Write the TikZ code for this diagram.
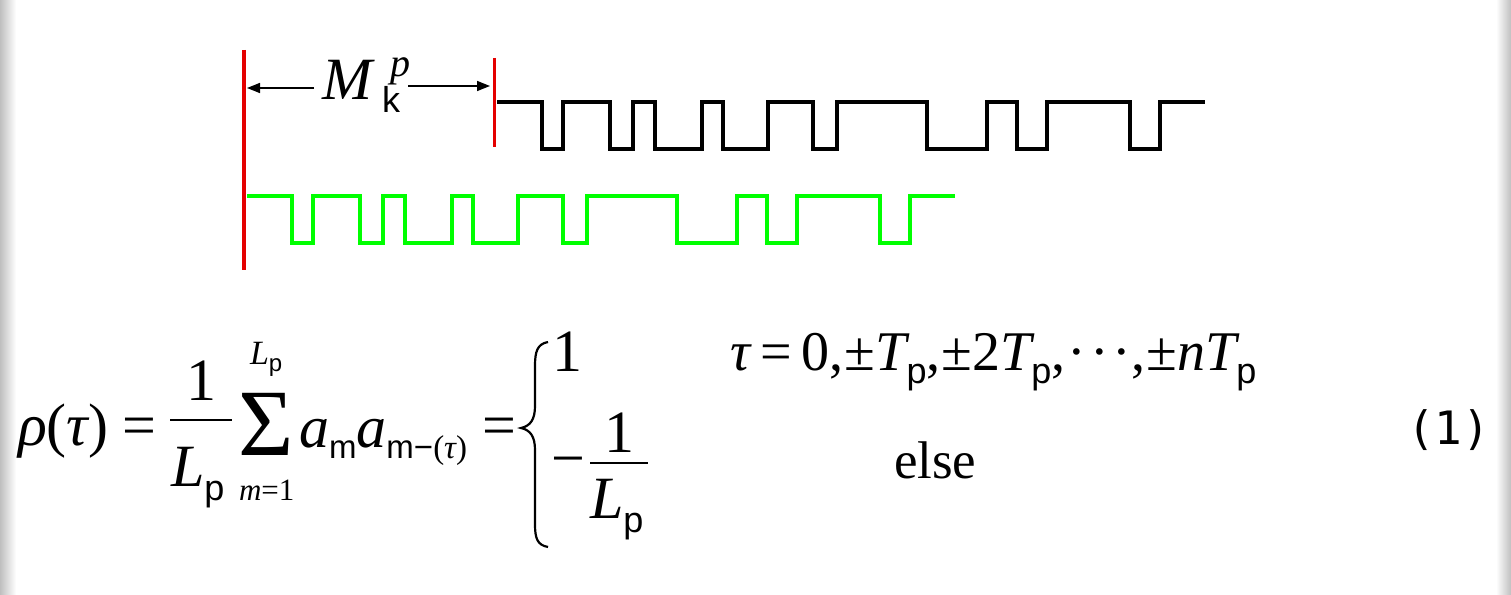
\documentclass[tikz,border=0pt]{standalone}
\usepackage{fontspec}
\setmainfont{Liberation Serif}
\newfontfamily\sansf{Liberation Sans}
\newfontfamily\monof{DejaVu Sans Mono}
\usetikzlibrary{arrows.meta}
\newcommand{\sz}[1]{\fontsize{#1}{#1}\selectfont}
\newcommand{\subp}[2]{\raisebox{-#2pt}{\sansf\sz{36}#1}}
\definecolor{redl}{RGB}{228,0,0}
\definecolor{greenl}{RGB}{0,255,0}
\newcommand{\wavepath}{(497,0) -- (542,0) -- (542,47) -- (563,47) -- (563,0) -- (610,0) -- (610,47) -- (633,47) -- (633,0) -- (655,0) -- (655,47) -- (702,47) -- (702,0) -- (723,0) -- (723,47) -- (768,47) -- (768,0) -- (813,0) -- (813,47) -- (837,47) -- (837,0) -- (927,0) -- (927,47) -- (987,47) -- (987,0) -- (1017,0) -- (1017,47) -- (1047,47) -- (1047,0) -- (1130,0) -- (1130,47) -- (1160,47) -- (1160,0) -- (1205,0)}
\begin{document}
\begin{tikzpicture}[x=1pt,y=-1pt,
  txt/.style={inner sep=0pt, outer sep=0pt, anchor=base west},
  ctr/.style={inner sep=0pt, outer sep=0pt, anchor=base},
  wave/.style={line width=4.3pt, line join=miter},
  fbar/.style={line width=2.4pt},
  arr/.style={line width=1.5pt, -{Triangle[length=13pt,width=10pt]}}]
\useasboundingbox (0,0) rectangle (1511,594);
\fill[white] (0,0) rectangle (1511,594);
\shade[left color=black!25, right color=white] (0,0) rectangle (16,594);
\shade[left color=white, right color=black!25] (1496,0) rectangle (1511,594);
% waveforms
\draw[wave, black] [shift={(0,102)}] \wavepath;
\draw[wave, greenl] [shift={(-250,196)}] \wavepath;
% red markers
\draw[redl, line width=4.5pt] (244,50) -- (244,270);
\draw[redl, line width=3pt] (494,58) -- (494,147);
% label M_k^p
\node[txt, font=\sz{60}] (M) at (322,99) {\itshape M};
\node[txt, font=\sz{40}] (Mp) at (390,76) {\itshape p};
\node[txt, font=\sz{36}] (Mk) at (382,112) {\sansf k};
\coordinate (la) at (314,88);
\coordinate (lt) at (247,88);
\coordinate (ra) at (408,86);
\coordinate (rt) at (490,86);
\draw[arr] (la) -- (lt);
\draw[arr] (ra) -- (rt);
% formula
\node[txt, font=\sz{60}] (rho) at (18,445) {{\itshape ρ}({\itshape τ})};
\node[txt, font=\sz{60}] (eq1) at (122,445) {=};
\node[ctr, font=\sz{60}] (n1) at (201,400) {1};
\coordinate (b1l) at (170,420);
\coordinate (b1r) at (232,420);
\draw[fbar] (b1l) -- (b1r);
\node[txt, font=\sz{60}] (d1) at (171,486) {{\itshape L}\subp{p}{14}};
\node[txt, font=\sz{95}] (sum) at (238,455) {Σ};
\node[txt, font=\sz{34}] (ul) at (250,364) {{\itshape L}\raisebox{-7pt}{\sansf\sz{24}p}};
\node[txt, font=\sz{31}] (ll) at (239,500) {{\itshape m}=1};
\node[txt, font=\sz{60}] (am) at (299,447) {{\itshape a}\raisebox{-11pt}{\sansf\sz{33}m}{\itshape a}\raisebox{-11pt}{\sz{33}{\sansf m−}({\itshape τ})}};
\node[txt, font=\sz{60}] (eq2) at (482,445) {=};
\draw[line width=2.2pt] (548,342) .. controls (537,344) and (535,352) .. (535,366) -- (535,406) .. controls (535,420) and (530,426) .. (521,428) .. controls (530,430) and (535,436) .. (535,450) -- (535,524) .. controls (535,538) and (537,545) .. (548,547);
\node[txt, font=\sz{60}] (c1) at (552,371) {1};
\node[txt, font=\sz{60}] (mn) at (551,478) {−};
\node[ctr, font=\sz{60}] (n2) at (619,452) {1};
\coordinate (b2l) at (590,463);
\coordinate (b2r) at (648,463);
\draw[fbar] (b2l) -- (b2r);
\node[txt, font=\sz{60}] (d2) at (590,518) {{\itshape L}\subp{p}{14}};
\node[txt, font=\sz{56}] (cond) at (730,370) {{\itshape τ}\hspace{10pt}=\hspace{10pt}0,\hspace{1pt}±{\itshape T}\subp{p}{13},\hspace{1pt}±2{\itshape T}\subp{p}{13},\hspace{2pt}·\hspace{4pt}·\hspace{4pt}·,\hspace{1pt}±{\itshape nT}\subp{p}{13}};
\node[txt, font=\sz{53}] (els) at (894,478) {else};
\node[txt, font=\sz{46}] (num) at (1407,444) {\monof (1)};
\end{tikzpicture}
\end{document}
